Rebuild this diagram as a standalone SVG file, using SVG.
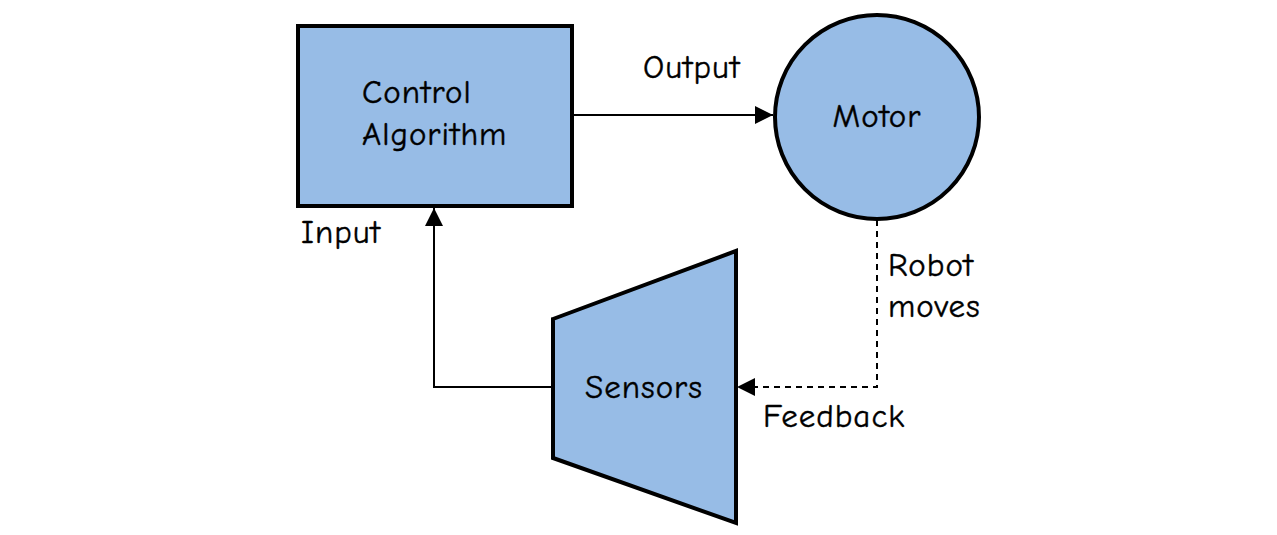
<svg xmlns="http://www.w3.org/2000/svg" width="1277" height="535" viewBox="0 0 1277 535">
<style>
.node{fill:#97bce6;stroke:#000;stroke-width:4}
.t{font-family:"Comic Sans MS","Comic Neue","Noto Sans",sans-serif;font-size:33px;letter-spacing:1px;fill:#000;stroke:#000;stroke-width:0.4}
.c{text-anchor:middle}
.edge{fill:none;stroke:#000;stroke-width:2}
.dash{stroke-dasharray:6 5}
</style>
<defs>
<marker id="arrL" viewBox="0 0 16 16" refX="16" refY="8" markerWidth="18" markerHeight="18" markerUnits="userSpaceOnUse" orient="auto">
<path d="M0,0 L16,8 L0,16 z" fill="#000"/>
</marker>
</defs>
<rect width="1277" height="535" fill="#fff"/>
<g id="connectors">
<path class="edge" d="M574,115 H773" marker-end="url(#arrL)"/>
<path class="edge" d="M553,387 H434 V208" marker-end="url(#arrL)"/>
<path class="edge dash" d="M877,220 V387 H737" marker-end="url(#arrL)"/>
<text class="t" x="643" y="78">Output</text>
<text class="t" x="301" y="243">Input</text>
<text class="t" x="888" y="276">Robot</text>
<text class="t" x="888" y="317">moves</text>
<text class="t" x="763" y="427">Feedback</text>
</g>
<g id="control">
<rect class="node" x="298" y="26" width="274" height="180"/>
<text class="t" x="362" y="103">Control</text>
<text class="t" x="362" y="145">Algorithm</text>
</g>
<g id="motor">
<circle class="node" cx="877" cy="117" r="102"/>
<text class="t c" x="877" y="127">Motor</text>
</g>
<g id="sensors">
<polygon class="node" points="553,319 736,251 736,523 553,458"/>
<text class="t c" x="644" y="398">Sensors</text>
</g>
</svg>
